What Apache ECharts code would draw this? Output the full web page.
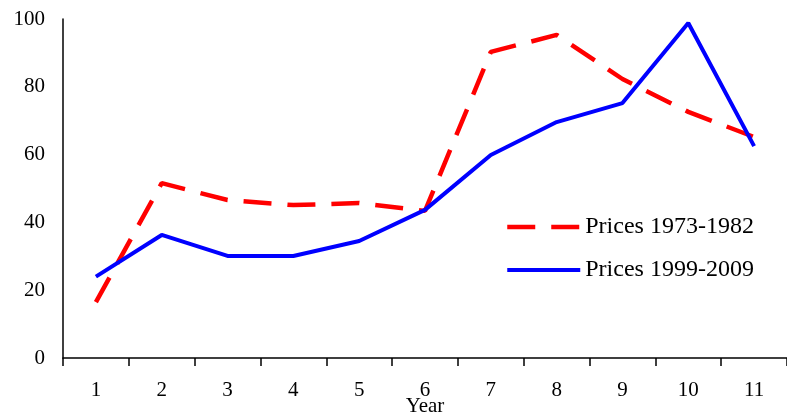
<!DOCTYPE html>
<html><head><meta charset="utf-8">
<script src="https://cdn.jsdelivr.net/npm/echarts@6/dist/echarts.min.js"></script>
<style>html,body{margin:0;padding:0;background:#fff;overflow:hidden}#c{width:787px;height:415px}</style>
</head><body><div id="c"></div>
<script>
const categories = ['1','2','3','4','5','6','7','8','9','10','11'];
const prices1973 = [16.5, 51.6, 46.6, 45.1, 45.7, 43.4, 90.3, 95.3, 82.3, 72.6, 65.2];
const prices1999 = [24.0, 36.3, 30.1, 30.1, 34.5, 43.7, 59.9, 69.6, 75.2, 98.8, 62.5];
const seriesNames = ['Prices 1973-1982', 'Prices 1999-2009'];
const F = 'Liberation Serif, Times New Roman, serif';
const chart = echarts.init(document.getElementById('c'));
chart.setOption({
  animation: false,
  backgroundColor: '#fff',
  grid: {left: 63, right: 0, top: 19, bottom: 57, outerBoundsMode: 'none', containLabel: false},
  legend: {
    orient: 'vertical', left: 500, top: 210, itemWidth: 73, itemHeight: 14, itemGap: 19,
    itemStyle: {opacity: 0},
    textStyle: {fontFamily: F, fontSize: 24, color: '#000'},
    data: [
      {name: seriesNames[0], lineStyle: {width: 4.5, type: [28, 16], dashOffset: 0, color: '#ff0000'}},
      {name: seriesNames[1], lineStyle: {width: 4, type: 'solid', color: '#0000ff'}}
    ]
  },
  xAxis: {
    type: 'category', data: categories, boundaryGap: true,
    name: 'Year', nameLocation: 'middle', nameGap: 38, nameMoveOverlap: false,
    nameTextStyle: {fontFamily: F, fontSize: 21, color: '#000'},
    axisLine: {lineStyle: {color: '#000', width: 1.5}},
    axisTick: {show: true, inside: false, length: 8, lineStyle: {color: '#000', width: 1.5}},
    axisLabel: {fontFamily: F, fontSize: 21, color: '#000', margin: 22}
  },
  yAxis: {
    type: 'value', min: 0, max: 100, interval: 20,
    splitLine: {show: false},
    axisLine: {show: true, lineStyle: {color: '#000', width: 1.5}},
    axisTick: {show: false},
    axisLabel: {fontFamily: F, fontSize: 21, color: '#000', margin: 18}
  },
  series: [
    {name: seriesNames[0], type: 'line', data: prices1973, symbol: 'none',
     lineStyle: {color: '#ff0000', width: 4.5, type: [28, 16]}, itemStyle: {color: '#ff0000'}},
    {name: seriesNames[1], type: 'line', data: prices1999, symbol: 'none',
     lineStyle: {color: '#0000ff', width: 4, type: 'solid'}, itemStyle: {color: '#0000ff'}}
  ]
});
</script></body></html>
